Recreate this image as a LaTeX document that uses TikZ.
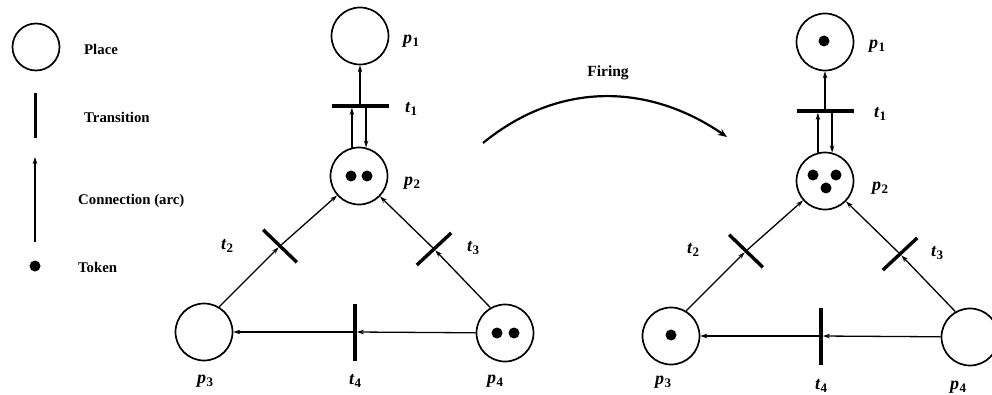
\documentclass[tikz,border=0pt]{standalone}
\usepackage{fontspec}
\setmainfont{Liberation Serif}
\usetikzlibrary{arrows.meta}
\newcommand\pnlab[2]{{\fontsize{18}{20}\selectfont\bfseries\itshape #1}\kern0.5pt\raisebox{-3.5pt}{\fontsize{13}{14}\selectfont\bfseries #2}}
\begin{document}
\begin{tikzpicture}[x=1pt,y=-1pt,
 place/.style={circle,draw,line width=1.7pt,minimum size=57pt,inner sep=0pt},
 token/.style={circle,fill,inner sep=0pt,minimum size=11pt},
 trans/.style={rectangle,fill,inner sep=0pt,minimum width=57pt,minimum height=3.4pt},
 arc/.style={line width=1.3pt,-{Stealth[length=7pt,width=4.5pt]}},
 lbl/.style={inner sep=0pt},
 legtxt/.style={anchor=west,inner sep=0pt,font=\fontsize{14.8}{17}\selectfont\bfseries}]
\useasboundingbox (0,0) rectangle (992,395);
% legend
\node[place,minimum size=47pt] (lp) at (36,47) {};
\node[legtxt] (lpt) at (84,49) {Place};
\node[trans,rotate=90,minimum width=45pt,minimum height=3pt] (lt) at (35,116) {};
\node[legtxt] (ltt) at (84,117) {Transition};
\coordinate (la0) at (35,242);
\coordinate (la1) at (35,157);
\draw[arc] (la0) -- (la1);
\node[legtxt] (lat) at (78,201) {Connection (arc)};
\node[token] (ltok) at (35,266) {};
\node[legtxt] (ltokt) at (78,267) {Token};
% left net
\node[place] (Lp1) at (360,36) {};
\node[place] (Lp2) at (359,176) {};
\node[place] (Lp3) at (204,332) {};
\node[place] (Lp4) at (505,333) {};
\node[token] (Lk1) at (351,176) {};
\node[token] (Lk2) at (367,176) {};
\node[token] (Lk3) at (497,333) {};
\node[token] (Lk4) at (514,333) {};
\node[trans] (Lt1) at (360,106) {};
\node[trans,rotate=-44,minimum width=47pt] (Lt2) at (280,246) {};
\node[trans,rotate=43,minimum width=47pt] (Lt3) at (434,249) {};
\node[trans,rotate=90] (Lt4) at (355,332) {};
\draw[arc] (Lt1) -- (Lp1);
\draw[arc] (Lp2.104) -- (Lp2.104 |- Lt1.south);
\draw[arc] (Lt1.south -| Lp2.76) -- (Lp2.76);
\draw[arc] (Lp3.59) -- (Lt2);
\draw[arc] (Lt2) -- (Lp2);
\draw[arc] (Lp4.120) -- (Lt3);
\draw[arc] (Lt3) -- (Lp2);
\draw[arc] (Lp4) -- (Lt4);
\draw[arc] (Lt4) -- (Lp3);
\node[lbl] (Llp1) at (411,41) {\pnlab{p}{1}};
\node[lbl] (Llt1) at (411,109) {\pnlab{t}{1}};
\node[lbl] (Llp2) at (412,183) {\pnlab{p}{2}};
\node[lbl] (Llt2) at (227,246) {\pnlab{t}{2}};
\node[lbl] (Llt3) at (473,248) {\pnlab{t}{3}};
\node[lbl] (Llp3) at (205,381) {\pnlab{p}{3}};
\node[lbl] (Llt4) at (355,381) {\pnlab{t}{4}};
\node[lbl] (Llp4) at (495,381) {\pnlab{p}{4}};
% firing
\coordinate (fs) at (483,143);
\coordinate (fe) at (727,137);
\draw[line width=2.2pt,-{Stealth[length=9pt,width=7pt]}] (fs) .. controls (560,80) and (650,84) .. (fe);
\node[inner sep=0pt,font=\fontsize{15.5}{17}\selectfont\bfseries] (fl) at (608,73) {Firing};
% right net
\node[place] (Rp1) at (825,42) {};
\node[place] (Rp2) at (825,181) {};
\node[place] (Rp3) at (671,336) {};
\node[place] (Rp4) at (970,337) {};
\node[token] (Rk0) at (824,41) {};
\node[token] (Rk1) at (813,175) {};
\node[token] (Rk2) at (836,175) {};
\node[token] (Rk3) at (826,188) {};
\node[token] (Rk4) at (671,335) {};
\node[trans] (Rt1) at (825,111) {};
\node[trans,rotate=-44,minimum width=47pt] (Rt2) at (746,251) {};
\node[trans,rotate=43,minimum width=47pt] (Rt3) at (900,254) {};
\node[trans,rotate=90] (Rt4) at (821,336) {};
\draw[arc] (Rt1) -- (Rp1);
\draw[arc] (Rp2.104) -- (Rp2.104 |- Rt1.south);
\draw[arc] (Rt1.south -| Rp2.76) -- (Rp2.76);
\draw[arc] (Rp3.59) -- (Rt2);
\draw[arc] (Rt2) -- (Rp2);
\draw[arc] (Rp4.120) -- (Rt3);
\draw[arc] (Rt3) -- (Rp2);
\draw[arc] (Rp4) -- (Rt4);
\draw[arc] (Rt4) -- (Rp3);
\node[lbl] (Rlp1) at (877,46) {\pnlab{p}{1}};
\node[lbl] (Rlt1) at (880,114) {\pnlab{t}{1}};
\node[lbl] (Rlp2) at (880,188) {\pnlab{p}{2}};
\node[lbl] (Rlt2) at (693,250) {\pnlab{t}{2}};
\node[lbl] (Rlt3) at (937,253) {\pnlab{t}{3}};
\node[lbl] (Rlp3) at (663,382) {\pnlab{p}{3}};
\node[lbl] (Rlt4) at (821,386) {\pnlab{t}{4}};
\node[lbl] (Rlp4) at (958,387) {\pnlab{p}{4}};
\end{tikzpicture}
\end{document}
